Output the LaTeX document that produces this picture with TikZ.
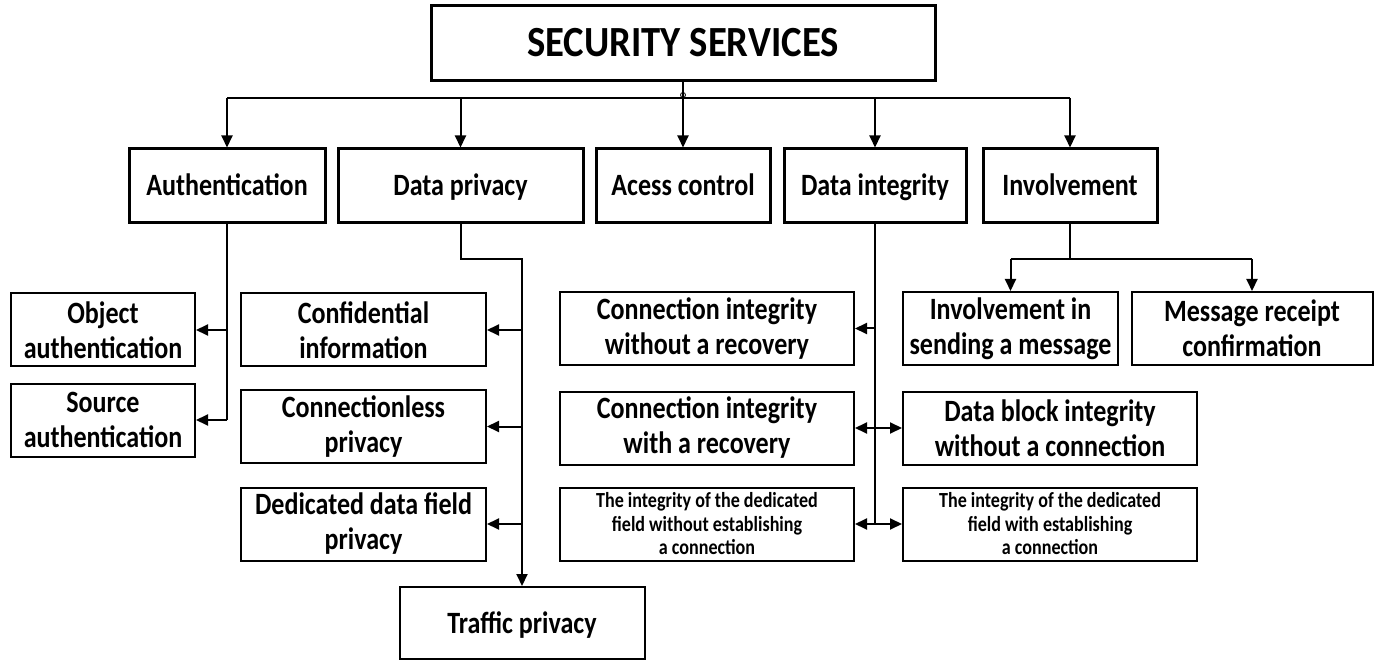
\documentclass[tikz,border=0pt]{standalone}
\usepackage{fontspec}
\setmainfont{Carlito}[FakeStretch=0.84]
\newfontfamily\headfont{Carlito}[FakeStretch=0.9]
\usetikzlibrary{arrows.meta}

\begin{document}
\begin{tikzpicture}[x=1pt,y=-1pt,
  box/.style={draw, fill=white, align=center, inner sep=0pt, text=black},
  head/.style={box, line width=3pt, minimum height=74pt, text height=20pt, text depth=0pt},
  sub/.style={box, line width=2pt, minimum height=73pt},
  title/.style={font=\headfont\fontsize{43}{46}\selectfont\bfseries, text height=27pt, text depth=0pt},
  big/.style={font=\fontsize{31}{35}\selectfont\bfseries},
  small/.style={font=\fontsize{21.5}{23.5}\selectfont\bfseries},
  link/.style={line width=2pt},
  arr/.style={link, -{Triangle[length=12pt,width=11pt]}}
]
\useasboundingbox (0,0) rectangle (1374,660);

% root
\node[head, title, minimum width=504pt, minimum height=75pt] (top) at (683,43.5) {SECURITY SERVICES};

% first level
\node[head, big, minimum width=196pt] (auth)  at (227,186)   {Authentication};
\node[head, big, minimum width=245pt] (dpriv) at (460.5,186) {Data privacy};
\node[head, big, minimum width=174pt] (acc)   at (683,186)   {Acess control};
\node[head, big, minimum width=182pt] (dint)  at (875,186)   {Data integrity};
\node[head, big, minimum width=174pt] (inv)   at (1070,186)  {Involvement};

% authentication branch
\node[sub, big, minimum width=184pt] (obj) at (103,330) {Object\\authentication};
\node[sub, big, minimum width=184pt] (src) at (103,420) {Source\\authentication};

% data privacy branch
\node[sub, big, minimum width=245pt] (conf)   at (363.5,330)   {Confidential\\information};
\node[sub, big, minimum width=245pt] (conl)   at (363.5,426.5) {Connectionless\\privacy};
\node[sub, big, minimum width=245pt] (dedic)  at (363.5,524)   {Dedicated data field\\privacy};
\node[sub, big, minimum width=245pt, minimum height=72pt, text height=20pt, text depth=0pt] (traffic) at (522,623) {Traffic privacy};

% data integrity branch
\node[sub, big, minimum width=294pt] (ciw) at (707,328.5) {Connection integrity\\without a recovery};
\node[sub, big, minimum width=294pt] (cir) at (707,428)   {Connection integrity\\with a recovery};
\node[sub, small, minimum width=294pt] (idw) at (707,524) {The integrity of the dedicated\\field without establishing\\a connection};
\node[sub, big, minimum width=294pt] (dbi) at (1050,428)  {Data block integrity\\without a connection};
\node[sub, small, minimum width=294pt] (idc) at (1050,524) {The integrity of the dedicated\\field with establishing\\a connection};

% involvement branch
\node[sub, big, minimum width=215pt] (invs) at (1010.5,328.5) {Involvement in\\sending a message};
\node[sub, big, minimum width=241pt] (msg)  at (1252,328.5)   {Message receipt\\confirmation};

% root to first level
\coordinate (bus) at (683,98);
\draw[line width=1.6pt] (auth.north |- bus) -- (inv.north |- bus);
\draw[arr] (top.south) -- (acc.north);
\draw[line width=0.8pt] (683,95) circle (2.5pt);
\foreach \n in {auth,dpriv,dint,inv}
  \draw[arr] (\n.north |- bus) -- (\n.north);

% authentication links
\draw[link] (auth.south) -- (auth.south |- src.east);
\draw[arr] (auth.south |- obj.east) -- (obj.east);
\draw[arr] (auth.south |- src.east) -- (src.east);

% data privacy links
\coordinate (dpk) at (522,259);
\draw[arr] (dpriv.south) |- (dpk) -- (traffic.north);
\foreach \n in {conf,conl,dedic}
  \draw[arr] (dpk |- \n.east) -- (\n.east);

% data integrity links
\draw[link] (dint.south) -- (dint.south |- idw.east);
\draw[arr] (dint.south |- ciw.east) -- (ciw.east);
\draw[arr] (dint.south |- cir.east) -- (cir.east);
\draw[arr] (dint.south |- idw.east) -- (idw.east);
\draw[arr] (dint.south |- dbi.west) -- (dbi.west);
\draw[arr] (dint.south |- idc.west) -- (idc.west);

% involvement links
\coordinate (ivk) at (1070,259);
\draw[link] (inv.south) -- (ivk);
\draw[link] (invs.north |- ivk) -- (msg.north |- ivk);
\draw[arr] (invs.north |- ivk) -- (invs.north);
\draw[arr] (msg.north |- ivk) -- (msg.north);
\end{tikzpicture}
\end{document}
